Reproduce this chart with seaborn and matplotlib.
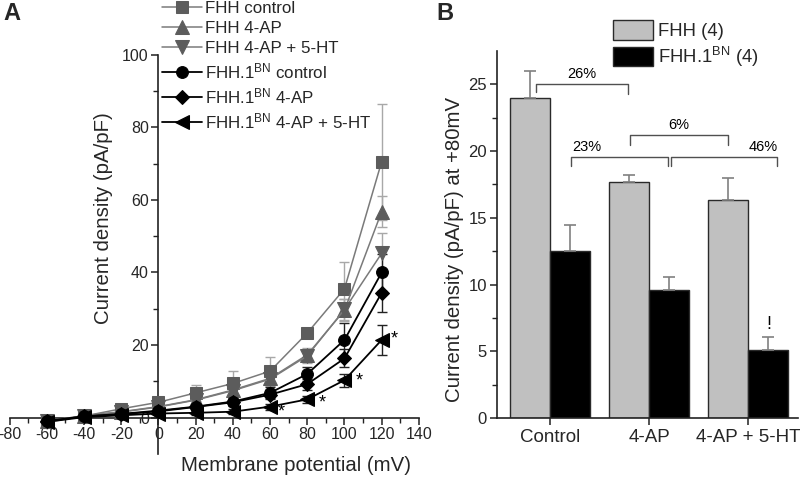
import numpy as np
import pandas as pd
import matplotlib
matplotlib.use('Agg')
import matplotlib.pyplot as plt
from matplotlib.ticker import MultipleLocator
import seaborn as sns

# ---------------- data: panel A (I-V curves) ----------------
voltages = [-60, -40, -20, 0, 20, 40, 60, 80, 100, 120]

fhh_control = [-1.3, 0.4, 2.4, 4.2, 6.8, 9.4, 12.8, 23.3, 35.5, 70.6]
fhh_control_se = [0.8, 0.6, 0.8, 1.0, 2.2, 3.3, 4.0, 1.5, 7.5, 16.0]
fhh_4ap = [-1.0, 0.5, 1.6, 3.0, 4.9, 7.6, 10.8, 17.3, 29.6, 56.8]
fhh_4ap_se = [0.5, 0.4, 0.6, 0.7, 1.0, 1.5, 1.5, 2.0, 3.0, 4.3]
fhh_4ap_5ht = [-1.0, 0.5, 1.5, 2.9, 4.8, 7.4, 10.6, 17.0, 29.8, 45.3]
fhh_4ap_5ht_se = [0.5, 0.4, 0.6, 0.7, 1.0, 1.4, 1.5, 2.0, 3.0, 5.6]
bn_control = [-1.0, 0.3, 1.0, 1.9, 3.0, 4.4, 6.8, 12.0, 21.4, 40.0]
bn_control_se = [0.4, 0.3, 0.4, 0.5, 0.8, 1.0, 1.5, 2.0, 4.8, 5.0]
bn_4ap = [-1.0, 0.3, 0.9, 1.7, 2.9, 4.2, 6.3, 9.2, 16.3, 34.4]
bn_4ap_se = [0.4, 0.3, 0.4, 0.5, 0.7, 1.0, 1.2, 1.5, 2.5, 5.2]
bn_4ap_5ht = [-1.2, 0.1, 0.6, 1.1, 1.3, 1.6, 3.0, 5.0, 10.3, 21.4]
bn_4ap_5ht_se = [0.4, 0.3, 0.4, 0.5, 0.5, 0.7, 0.8, 1.0, 1.8, 4.2]

series_names = ['FHH control', 'FHH 4-AP', 'FHH 4-AP + 5-HT',
                r'FHH.1$^{\mathrm{BN}}$ control', r'FHH.1$^{\mathrm{BN}}$ 4-AP',
                r'FHH.1$^{\mathrm{BN}}$ 4-AP + 5-HT']
series_values = [fhh_control, fhh_4ap, fhh_4ap_5ht, bn_control, bn_4ap, bn_4ap_5ht]
series_errors = [fhh_control_se, fhh_4ap_se, fhh_4ap_5ht_se, bn_control_se, bn_4ap_se, bn_4ap_5ht_se]

# significance marks in panel A: (x, y)
star_x = [66, 88, 108, 127]
star_y = [1.6, 3.9, 10.1, 21.7]

# ---------------- data: panel B (bars at +80 mV) ----------------
conditions = ['Control', '4-AP', '4-AP + 5-HT']
strains = ['FHH (4)', r'FHH.1$^{\mathrm{BN}}$ (4)']
fhh_80 = [24.0, 17.7, 16.3]
fhh_80_se = [2.0, 0.5, 1.7]
bn_80 = [12.5, 9.6, 5.1]
bn_80_se = [2.0, 1.0, 1.0]

bracket_labels = ['26%', '6%', '23%', '46%']

# ---------------- style ----------------
sns.set_style('ticks')
plt.rcParams['font.family'] = ['Liberation Sans', 'DejaVu Sans']
plt.rcParams['mathtext.fontset'] = 'custom'
plt.rcParams['mathtext.rm'] = 'Liberation Sans'
plt.rcParams['mathtext.it'] = 'Liberation Sans:italic'
plt.rcParams['mathtext.bf'] = 'Liberation Sans:bold'
plt.rcParams['axes.unicode_minus'] = False

fig = plt.figure(figsize=(8, 4.79), dpi=100)
axA = fig.add_axes([0.0121, 0.0527, 0.5115, 0.8325])
axB = fig.add_axes([0.621, 0.1267, 0.3765, 0.7673])

# ---------------- panel A ----------------
markers = ['s', '^', 'v', 'o', 'D', '<']
msizes = [9, 9.5, 9.5, 8.5, 7.5, 9.5]
line_cols = ['#7a7a7a'] * 3 + ['#000000'] * 3
mark_cols = ['#5c5c5c'] * 3 + ['#000000'] * 3
err_cols = ['#a8a8a8'] * 3 + ['#222222'] * 3
lws = [1.1] * 3 + [1.3] * 3

for i in range(6):
    axA.errorbar(voltages, series_values[i], yerr=series_errors[i], fmt='none',
                 ecolor=err_cols[i], elinewidth=1.0, capsize=3.5, capthick=1.0,
                 zorder=1 + i * 0.1)
for i in range(6):
    sns.lineplot(x=voltages, y=series_values[i], ax=axA, color=line_cols[i],
                 marker=markers[i], markersize=msizes[i],
                 markerfacecolor=mark_cols[i], markeredgecolor=mark_cols[i],
                 linewidth=lws[i], label=series_names[i], errorbar=None,
                 zorder=3 + i * 0.1)

for sx, sy in zip(star_x, star_y):
    axA.text(sx, sy, '*', ha='center', va='center', fontsize=13, color='black')

axA.set_xlim(-80, 140)
axA.set_ylim(-10, 100)
axA.spines['left'].set_position(('data', 0))
axA.spines['bottom'].set_position(('data', 0))
axA.spines['top'].set_visible(False)
axA.spines['right'].set_visible(False)
for s in ['left', 'bottom']:
    axA.spines[s].set_color('#222222')
    axA.spines[s].set_linewidth(1.2)
axA.set_xticks(np.arange(-80, 141, 20))
axA.set_yticks(np.arange(0, 101, 20))
axA.xaxis.set_minor_locator(MultipleLocator(10))
axA.set_yticks(np.arange(10, 100, 20), minor=True)
axA.tick_params(axis='both', which='major', direction='out', length=5, width=1.1,
                labelsize=11.5, color='#222222', pad=2)
axA.tick_params(axis='both', which='minor', direction='out', length=3.5, width=1.0,
                color='#222222')
axA.set_xlabel('Membrane potential (mV)', fontsize=14.7)
axA.set_ylabel('Current density (pA/pF)', fontsize=14.7)
axA.xaxis.set_label_coords(0.70, -0.005)
axA.yaxis.set_label_coords(0.253, 0.59)
axA.set_facecolor('none')

handles, labels = axA.get_legend_handles_labels()
axA.legend(handles, labels, loc='upper left', bbox_to_anchor=(0.2025, 0.998),
           bbox_transform=fig.transFigure, frameon=False, fontsize=12.2,
           handlelength=2.35, handletextpad=0.2, labelspacing=0.3,
           borderpad=0, borderaxespad=0)

# ---------------- panel B ----------------
dfB = pd.DataFrame({
    'condition': conditions * 2,
    'strain': [strains[0]] * 3 + [strains[1]] * 3,
    'value': fhh_80 + bn_80,
})
sns.barplot(data=dfB, x='condition', y='value', hue='strain', order=conditions,
            hue_order=strains, palette=['#c0c0c0', '#000000'], errorbar=None,
            edgecolor='#2a2a2a', linewidth=1.0, ax=axB, zorder=2)

for cont, se in zip(axB.containers, [fhh_80_se, bn_80_se]):
    xs = [p.get_x() + p.get_width() / 2 for p in cont.patches]
    hs = [p.get_height() for p in cont.patches]
    axB.errorbar(xs, hs, yerr=[np.zeros(len(se)), se], fmt='none', ecolor='#808080',
                 elinewidth=1.2, capsize=4, capthick=1.2, zorder=3)

# brackets: (x_left, x_right, y_top, y_left_leg, y_right_leg, text_x, text_y)
brackets = [(-0.145, 0.79, 25.0, 24.45, 24.3, 0.32, 25.25),
            (0.81, 1.80, 21.2, 20.45, 20.45, 1.30, 21.4),
            (0.21, 1.195, 19.55, 18.9, 18.9, 0.37, 19.75),
            (1.225, 2.29, 19.55, 18.9, 18.9, 2.15, 19.75)]
for (x1, x2, yt, y1, y2, tx, ty), lab in zip(brackets, bracket_labels):
    axB.plot([x1, x1, x2, x2], [y1, yt, yt, y2], color='#505050', lw=1.0, zorder=4)
    axB.text(tx, ty, lab, ha='center', va='bottom', fontsize=10.5, color='black')
axB.text(2.21, 6.4, '!', ha='center', va='bottom', fontsize=13, color='black')

axB.set_xlim(-0.538, 2.505)
axB.set_ylim(0, 27.5)
axB.set_yticks(np.arange(0, 26, 5))
axB.set_yticks(np.arange(2.5, 27.5, 5), minor=True)
axB.spines['top'].set_visible(False)
axB.spines['right'].set_visible(False)
for s in ['left', 'bottom']:
    axB.spines[s].set_color('#222222')
    axB.spines[s].set_linewidth(1.2)
axB.tick_params(axis='y', which='major', direction='out', length=5, width=1.1,
                labelsize=12, color='#222222', pad=2)
axB.tick_params(axis='y', which='minor', direction='out', length=3.5, width=1.0,
                color='#222222')
axB.tick_params(axis='x', which='major', direction='out', length=5, width=1.1,
                labelsize=13.5, color='#222222', pad=3)
axB.set_xlabel('')
axB.set_ylabel('Current density (pA/pF) at +80mV', fontsize=14.7)
axB.yaxis.set_label_coords(-0.11, 0.46)
axB.set_facecolor('none')

axB.legend(loc='upper left', bbox_to_anchor=(0.766, 0.958),
           bbox_transform=fig.transFigure, frameon=False, fontsize=13.3,
           handlelength=2.16, handleheight=1.25, handletextpad=0.27,
           labelspacing=0.25, borderpad=0, borderaxespad=0)

fig.text(0.004, 0.995, 'A', ha='left', va='top', fontsize=17, fontweight='bold')
fig.text(0.545, 0.995, 'B', ha='left', va='top', fontsize=17, fontweight='bold')

fig.savefig('out.png', dpi=100)
